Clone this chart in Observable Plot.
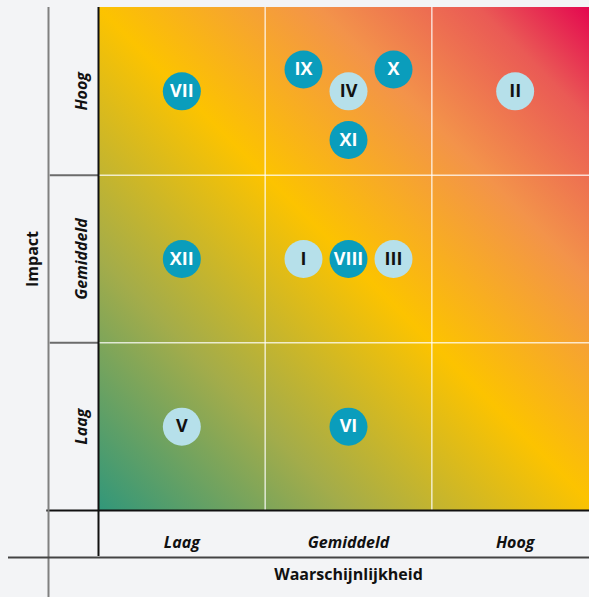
<!DOCTYPE html>
<html><head><meta charset="utf-8">
<script src="https://cdn.jsdelivr.net/npm/d3@7"></script>
<script src="https://cdn.jsdelivr.net/npm/@observablehq/plot@0.6"></script>
<style>
html,body{margin:0;padding:0;background:#f3f4f6;overflow:hidden;}
#chart svg{display:block;max-width:none;}
</style></head>
<body><div id="chart"></div>
<script>
// Categories (levels, low -> high)
const levels = ["Laag", "Gemiddeld", "Hoog"];
const xTitle = "Waarschijnlijkheid";
const yTitle = "Impact";
// Risks: label, likelihood position (0-3), impact position (0-3), type
const riskLabels = ["I", "II", "III", "IV", "V", "VI", "VII", "VIII", "IX", "X", "XI", "XII"];
const riskX      = [1.23, 2.5, 1.77, 1.5, 0.5, 1.5, 0.5, 1.5, 1.23, 1.77, 1.5, 0.5];
const riskY      = [1.5, 2.5, 1.5, 2.5, 0.5, 0.5, 2.5, 1.5, 2.63, 2.63, 2.21, 1.5];
const riskKind   = ["light", "light", "light", "light", "light", "dark", "dark", "dark", "dark", "dark", "dark", "dark"];

const risks = riskLabels.map((label, i) => ({label, x: riskX[i], y: riskY[i], kind: riskKind[i]}));
const levelPos = levels.map((name, i) => ({name, pos: i + 0.5}));

const FONT = "'Open Sans', sans-serif";
const fillFor = {dark: "#0a9dbc", light: "#b6e0ea"};
const textFor = {dark: "#ffffff", light: "#111111"};

const defs = () => {
  const g = d3.create("svg:defs");
  const lg = g.append("linearGradient").attr("id", "riskgrad")
    .attr("x1", 0).attr("y1", 1).attr("x2", 1).attr("y2", 0);
  [[0, "#31977a"], [0.25, "#a3ac4a"], [0.5, "#fcc300"], [0.72, "#f3934a"], [0.88, "#ea5a55"], [1, "#e3004f"]]
    .forEach(([o, c]) => lg.append("stop").attr("offset", o).attr("stop-color", c));
  return g.node();
};

const chart = Plot.plot({
  width: 598,
  height: 597,
  marginLeft: 98,
  marginRight: 0,
  marginTop: 7,
  marginBottom: 87,
  style: {background: "#f3f4f6", fontFamily: FONT, overflow: "hidden"},
  x: {domain: [0, 3], axis: null},
  y: {domain: [0, 3], axis: null},
  marks: [
    defs,
    Plot.rect([{}], {x1: 0, x2: 3, y1: 0, y2: 3, fill: "url(#riskgrad)"}),
    Plot.ruleX([1, 2], {y1: 0, y2: 3, stroke: "#ffffff", strokeOpacity: 0.75, strokeWidth: 1.5}),
    Plot.ruleY([1, 2], {x1: 0, x2: 3, stroke: "#ffffff", strokeOpacity: 0.75, strokeWidth: 1.5}),
    // header column row separators
    Plot.ruleY([1, 2], {x1: -0.29, x2: 0, stroke: "#6b6b6b", strokeWidth: 2}),
    // frame lines
    Plot.ruleY([0], {x1: -0.31, x2: 3, stroke: "#111", strokeWidth: 2}),
    Plot.ruleX([0], {y1: -0.275, y2: 3, stroke: "#111", strokeWidth: 2}),
    Plot.ruleX([-0.3], {y1: -0.52, y2: 3, stroke: "#808080", strokeWidth: 2}),
    Plot.ruleY([-0.28], {x1: -0.54, x2: 3, stroke: "#444", strokeWidth: 2}),
    // tick labels
    Plot.text(levelPos, {x: "pos", frameAnchor: "bottom", dy: 37, text: "name",
      fontSize: 16, fontWeight: "bold", fontStyle: "italic", fill: "#111", fontFamily: FONT}),
    Plot.text(levelPos, {y: "pos", frameAnchor: "left", textAnchor: "middle", dx: -17, rotate: -90, text: "name",
      fontSize: 16, fontWeight: "bold", fontStyle: "italic", fill: "#111", fontFamily: FONT}),
    // axis titles
    Plot.text([xTitle], {frameAnchor: "bottom", dy: 69, text: d => d,
      fontSize: 16, fontWeight: "bold", fill: "#111", fontFamily: FONT}),
    Plot.text([yTitle], {frameAnchor: "left", textAnchor: "middle", dx: -66, rotate: -90, text: d => d,
      fontSize: 16, fontWeight: "bold", fill: "#111", fontFamily: FONT}),
    // risks
    Plot.dot(risks, {x: "x", y: "y", r: 19, fill: d => fillFor[d.kind], stroke: "none"}),
    Plot.text(risks, {x: "x", y: "y", text: "label", fill: d => textFor[d.kind],
      fontSize: 18, fontWeight: "bold", fontFamily: FONT})
  ]
});
document.getElementById("chart").append(chart);
</script></body></html>
